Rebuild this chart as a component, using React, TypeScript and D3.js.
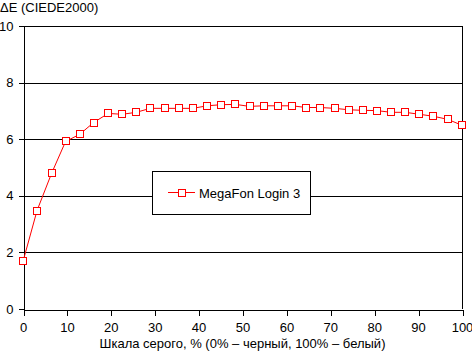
import React, { useEffect, useRef } from 'react';
import * as d3 from 'd3';

// grey level, %
const grayLevels = [0, 3.2, 6.5, 9.7, 12.9, 16.1, 19.4, 22.6, 25.8, 29.0, 32.3, 35.5, 38.7, 41.9, 45.2, 48.4,
  51.6, 54.8, 58.1, 61.3, 64.5, 67.7, 71.0, 74.2, 77.4, 80.6, 83.9, 87.1, 90.3, 93.5, 96.8, 100];
// deltaE values
const deltaE = [1.68, 3.48, 4.79, 5.92, 6.17, 6.59, 6.91, 6.88, 6.95, 7.09, 7.09, 7.09, 7.09, 7.18, 7.22, 7.23,
  7.16, 7.18, 7.18, 7.18, 7.12, 7.12, 7.09, 7.04, 7.02, 7.01, 6.95, 6.95, 6.88, 6.81, 6.70, 6.49];

const xTicks = [0, 10, 20, 30, 40, 50, 60, 70, 80, 90, 100];
const yTicks = [0, 2, 4, 6, 8, 10];
const seriesName = 'MegaFon Login 3';
const yTitle = 'ΔE (CIEDE2000)';
const xTitle = 'Шкала серого, % (0% – черный, 100% – белый)';

export default function App() {
  const svgRef = useRef<SVGSVGElement>(null);

  useEffect(() => {
    if (!svgRef.current) return;
    const svg = d3.select(svgRef.current);
    svg.selectAll('*').remove();

    const W = 472, H = 352;
    const font = 'Arial, "Liberation Sans", sans-serif';
    svg.attr('width', W).attr('height', H);

    const x = d3.scaleLinear().domain([0, 100]).range([23, 462]);
    const y = d3.scaleLinear().domain([0, 10]).range([309, 26]);
    const px = (v: number) => Math.round(v) + 0.5;

    svg.append('rect').attr('width', W).attr('height', H).attr('fill', '#fff');

    // gridlines
    svg.append('g').selectAll('line')
      .data(yTicks.filter(t => t > 0))
      .join('line')
      .attr('x1', x(0)).attr('x2', x(100))
      .attr('y1', d => px(y(d))).attr('y2', d => px(y(d)))
      .attr('stroke', '#000').attr('shape-rendering', 'crispEdges');

    // axes
    const gx = svg.append('g').attr('transform', `translate(0,${px(y(0))})`)
      .call(d3.axisBottom(x).tickValues(xTicks).tickSize(6).tickSizeOuter(0).tickPadding(7));
    const gy = svg.append('g').attr('transform', `translate(${px(x(0))},0)`)
      .call(d3.axisLeft(y).tickValues(yTicks).tickSize(5).tickSizeOuter(0).tickPadding(5));
    [gx, gy].forEach(g => {
      g.attr('font-family', font).attr('font-size', 13);
      g.selectAll('line, path').attr('stroke', '#000').attr('shape-rendering', 'crispEdges');
      g.selectAll('text').attr('fill', '#000');
    });
    gx.selectAll('.tick line').attr('transform', 'translate(0.5,0)');

    // right border
    svg.append('line')
      .attr('x1', px(x(100))).attr('x2', px(x(100)))
      .attr('y1', y(10)).attr('y2', y(0))
      .attr('stroke', '#000').attr('shape-rendering', 'crispEdges');

    // series
    const pts = grayLevels.map((g, i) => [x(g), y(deltaE[i])] as [number, number]);
    svg.append('path')
      .attr('d', d3.line()(pts))
      .attr('fill', 'none').attr('stroke', '#ff0000').attr('stroke-width', 1);
    svg.append('g').selectAll('rect')
      .data(pts)
      .join('rect')
      .attr('x', d => Math.round(d[0]) - 3.5).attr('y', d => Math.round(d[1]) - 3.5)
      .attr('width', 7).attr('height', 7)
      .attr('fill', '#fff').attr('stroke', '#ff0000');

    // legend
    const lg = svg.append('g');
    lg.append('rect').attr('x', 152.5).attr('y', 171.5).attr('width', 158).attr('height', 43)
      .attr('fill', '#fff').attr('stroke', '#000');
    lg.append('line').attr('x1', 168).attr('x2', 195).attr('y1', 192.5).attr('y2', 192.5)
      .attr('stroke', '#ff0000');
    lg.append('rect').attr('x', 178.5).attr('y', 189.5).attr('width', 7).attr('height', 7)
      .attr('fill', '#fff').attr('stroke', '#ff0000');
    lg.append('text').attr('x', 199).attr('y', 197.5)
      .attr('font-family', font).attr('font-size', 13).attr('fill', '#000')
      .text(seriesName);

    // titles
    svg.append('text').attr('x', 0).attr('y', 11.5)
      .attr('font-family', font).attr('font-size', 13).attr('fill', '#000')
      .text(yTitle);
    svg.append('text').attr('x', (x(0) + x(100)) / 2).attr('y', 348)
      .attr('text-anchor', 'middle')
      .attr('font-family', font).attr('font-size', 13).attr('fill', '#000')
      .text(xTitle);
  }, []);

  return <svg ref={svgRef} style={{ position: 'absolute', left: 0, top: 0, display: 'block' }} />;
}
